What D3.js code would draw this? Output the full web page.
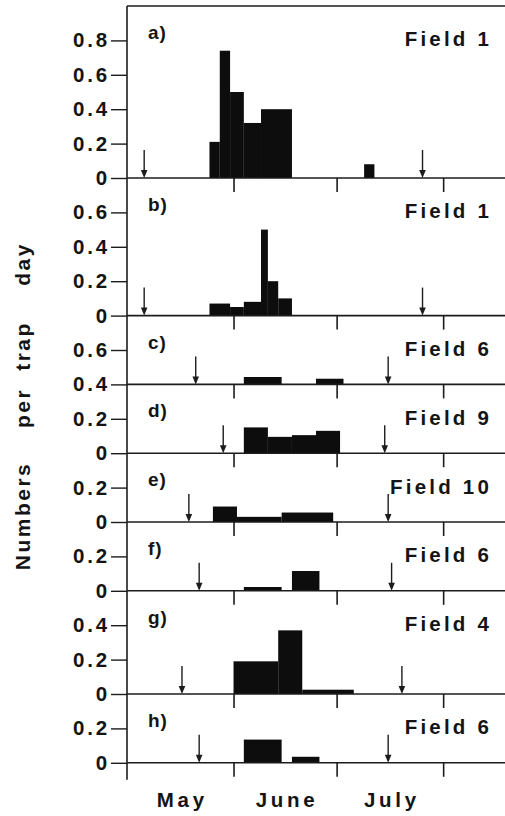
<!DOCTYPE html>
<html>
<head>
<meta charset="utf-8">
<script src="https://cdn.jsdelivr.net/npm/d3@7"></script>
<style>
  html, body { margin: 0; padding: 0; background: #fff; }
  svg { display: block; }
  text { font-family: "Liberation Sans", Arial, sans-serif; font-weight: bold; fill: #141414; }
</style>
</head>
<body>
<svg id="chart" width="505" height="816"></svg>
<script>
// Catches per trap day, sampled over the season in several fields.
const panelLabels = ["a)", "b)", "c)", "d)", "e)", "f)", "g)", "h)"];
const fieldNames  = ["Field 1", "Field 1", "Field 6", "Field 9", "Field 10", "Field 6", "Field 4", "Field 6"];

// Value range of each panel's y axis (bottom, top) and its labelled ticks
const yDomains = [[0, 1.0], [0, 0.8], [0.4, 0.8], [0, 0.4], [0, 0.4], [0, 0.4], [0, 0.6], [0, 0.4]];
const yTicks   = [[0, 0.2, 0.4, 0.6, 0.8], [0, 0.2, 0.4, 0.6], [0.4, 0.6], [0, 0.2], [0, 0.2], [0, 0.2], [0, 0.2, 0.4], [0, 0.2]];

// Sampling intervals: [from, to, numbers per trap day]
const barsA = [["05-25", "05-28", 0.21], ["05-28", "05-31", 0.74], ["05-31", "06-04", 0.50],
               ["06-04", "06-09", 0.32], ["06-09", "06-18", 0.40], ["07-09", "07-12", 0.08]];
const barsB = [["05-25", "05-31", 0.07], ["05-31", "06-04", 0.05], ["06-04", "06-09", 0.08],
               ["06-09", "06-11", 0.50], ["06-11", "06-14", 0.20], ["06-14", "06-18", 0.10]];
const barsC = [["06-04", "06-15", 0.443], ["06-25", "07-03", 0.433]];
const barsD = [["06-04", "06-11", 0.15], ["06-11", "06-18", 0.095], ["06-18", "06-25", 0.105], ["06-25", "07-02", 0.13]];
const barsE = [["05-26", "06-02", 0.09], ["06-02", "06-15", 0.03], ["06-15", "06-30", 0.055]];
const barsF = [["06-04", "06-15", 0.022], ["06-18", "06-26", 0.115]];
const barsG = [["06-01", "06-14", 0.19], ["06-14", "06-21", 0.37], ["06-21", "07-06", 0.025]];
const barsH = [["06-04", "06-15", 0.135], ["06-18", "06-26", 0.035]];
const panelBars = [barsA, barsB, barsC, barsD, barsE, barsF, barsG, barsH];

// Start and end of trapping in each field
const arrowDates = [["05-06", "07-26"], ["05-06", "07-26"], ["05-21", "07-16"], ["05-29", "07-15"],
                    ["05-19", "07-16"], ["05-22", "07-17"], ["05-17", "07-20"], ["05-22", "07-16"]];

const monthNames  = ["May", "June", "July"];
const monthStarts = ["05-01", "06-01", "07-01", "08-01"];
const seasonEnd   = "08-19";

const yTitle = "Numbers per trap day";

// ---- layout ----
const parse = d3.timeParse("%m-%d");
const plotLeft = 127, plotRight = 505, plotTop = 6, pxPerUnit = 172;
const ink = "#1c1c1c";
// vertical centre of each word of the rotated axis title
const titleWordCentres = [516, 408, 346, 264];

const svg = d3.select("#chart");

const x = d3.scaleTime()
  .domain([parse(monthStarts[0]), parse(seasonEnd)])
  .range([plotLeft, plotRight]);

// Stack the panels; each panel's height follows its value range
let yCursor = plotTop;
const panels = yDomains.map((dom, i) => {
  const h = (dom[1] - dom[0]) * pxPerUnit;
  const p = { i, top: yCursor, bottom: yCursor + h, y: d3.scaleLinear().domain(dom).range([yCursor + h, yCursor]) };
  yCursor += h;
  return p;
});
const lastBottom = panels[panels.length - 1].bottom;

const fmt = v => v === 0 ? "0" : d3.format(".1f")(v);

// top frame line
svg.append("line")
  .attr("x1", plotLeft).attr("x2", plotRight).attr("y1", plotTop).attr("y2", plotTop)
  .attr("stroke", ink).attr("stroke-width", 1.6);

panels.forEach(p => {
  const g = svg.append("g");
  const bars = panelBars[p.i];
  const base = p.y(yDomains[p.i][0]);

  // histogram bars
  g.selectAll("rect.bar").data(bars).join("rect")
    .attr("class", "bar")
    .attr("x", d => x(parse(d[0])))
    .attr("width", d => x(parse(d[1])) - x(parse(d[0])))
    .attr("y", d => p.y(d[2]))
    .attr("height", d => base - p.y(d[2]))
    .attr("fill", "#0d0d0d");

  // y axis with outward ticks
  const yAxis = d3.axisLeft(p.y).tickValues(yTicks[p.i]).tickFormat(fmt).tickSize(16).tickPadding(1);
  const ga = g.append("g").attr("transform", `translate(${plotLeft},0)`).call(yAxis);
  ga.select(".domain").remove();
  ga.selectAll(".tick line").attr("stroke", ink).attr("stroke-width", 1.4);
  ga.selectAll(".tick text")
    .attr("font-size", 20.5).attr("letter-spacing", 2.8)
    .attr("font-family", "Liberation Sans, Arial, sans-serif")
    .attr("font-weight", "bold").attr("fill", "#141414");

  // baseline across the panel
  g.append("line")
    .attr("x1", plotLeft).attr("x2", plotRight).attr("y1", base).attr("y2", base)
    .attr("stroke", ink).attr("stroke-width", 1.6);

  // month boundary ticks hanging below the baseline
  const xAxis = d3.axisBottom(x)
    .tickValues(monthStarts.slice(1).map(parse))
    .tickSize(14).tickFormat("");
  const gx = g.append("g").attr("transform", `translate(0,${base})`).call(xAxis);
  gx.select(".domain").remove();
  gx.selectAll(".tick line").attr("stroke", ink).attr("stroke-width", 1.6);

  // trapping start / end arrows
  arrowDates[p.i].forEach(dstr => {
    const ax = x(parse(dstr));
    g.append("line")
      .attr("x1", ax).attr("x2", ax).attr("y1", base - 28).attr("y2", base - 5)
      .attr("stroke", ink).attr("stroke-width", 1.4);
    g.append("path")
      .attr("d", `M${ax - 3.3},${base - 8} L${ax + 3.3},${base - 8} L${ax},${base} Z`)
      .attr("fill", ink);
  });

  // panel letter and field name
  g.append("text")
    .attr("x", 148).attr("y", p.top + 28)
    .attr("dominant-baseline", "middle")
    .attr("font-size", 19).attr("letter-spacing", 1)
    .text(panelLabels[p.i]);
  g.append("text")
    .attr("x", 492).attr("y", p.top + 35)
    .attr("dominant-baseline", "middle")
    .attr("text-anchor", "end")
    .attr("font-size", 20.5).attr("letter-spacing", 3.2)
    .text(fieldNames[p.i]);
});

// left axis line through all panels
svg.append("line")
  .attr("x1", plotLeft).attr("x2", plotLeft).attr("y1", plotTop).attr("y2", lastBottom + 17)
  .attr("stroke", ink).attr("stroke-width", 1.6);

// month names centred between month boundaries
svg.selectAll("text.month").data(monthNames).join("text")
  .attr("class", "month")
  .attr("x", (d, i) => (x(parse(monthStarts[i])) + x(parse(monthStarts[i + 1]))) / 2 + 2)
  .attr("y", 807)
  .attr("text-anchor", "middle")
  .attr("font-size", 20.5).attr("letter-spacing", 3.7)
  .text(d => d);

// y axis title, read bottom to top
svg.append("text")
  .attr("transform", "translate(30,0) rotate(-90)")
  .attr("font-size", 21).attr("letter-spacing", 2.5)
  .selectAll("tspan").data(yTitle.split(" ")).join("tspan")
    .attr("x", (d, i) => -titleWordCentres[i])
    .attr("y", 0)
    .attr("text-anchor", "middle")
    .text(d => d);
</script>
</body>
</html>
